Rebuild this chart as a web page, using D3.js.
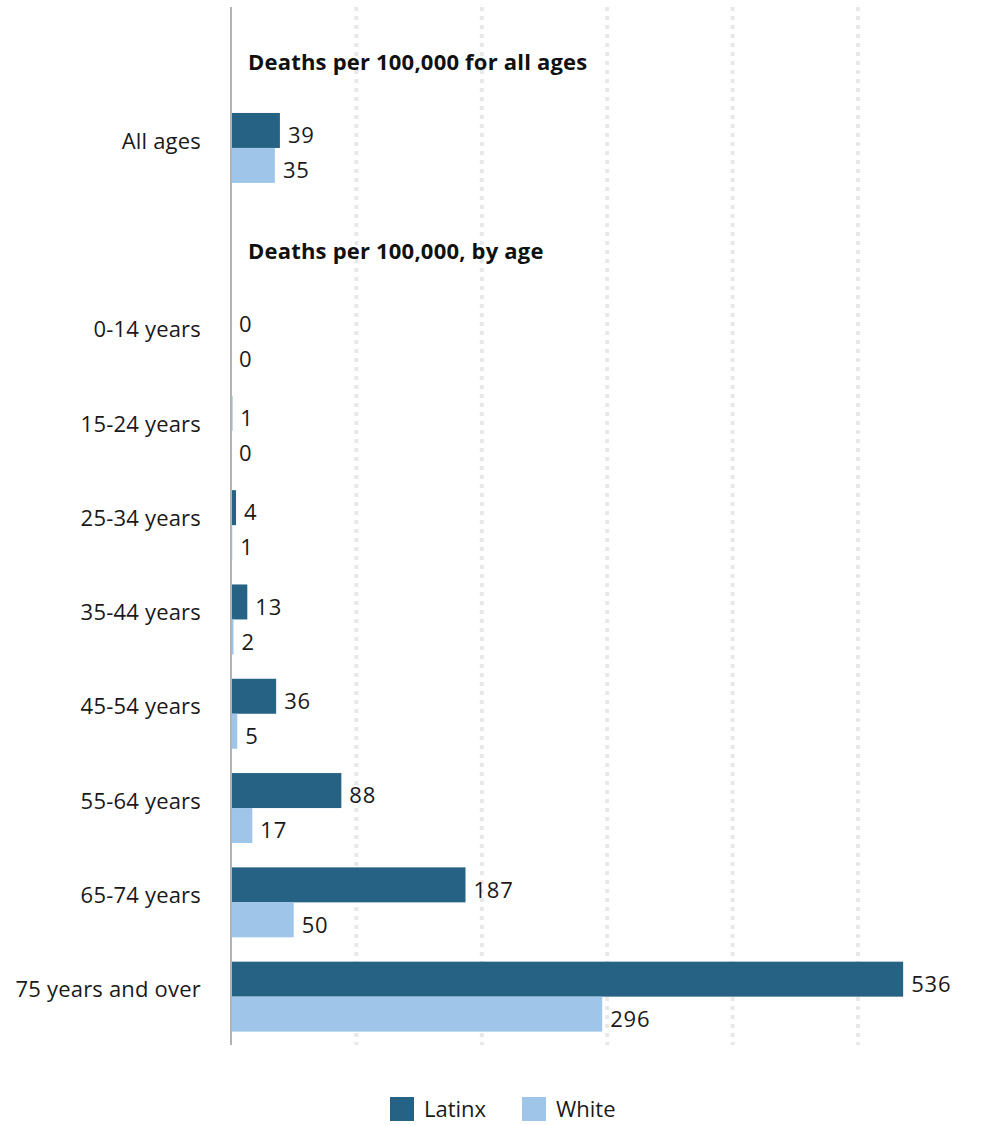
<!DOCTYPE html>
<html>
<head>
<meta charset="utf-8">
<script src="https://cdn.jsdelivr.net/npm/d3@7"></script>
<style>
  html, body { margin: 0; padding: 0; background: #fff; }
  svg { display: block; font-family: "Open Sans", Lato, sans-serif; }
</style>
</head>
<body>
<svg id="chart" width="981" height="1125"></svg>
<script>
// ---- data ----
const rows = ["h1", "All ages", "h2", "0-14 years", "15-24 years", "25-34 years", "35-44 years", "45-54 years", "55-64 years", "65-74 years", "75 years and over"];
const categories = ["All ages", "0-14 years", "15-24 years", "25-34 years", "35-44 years", "45-54 years", "55-64 years", "65-74 years", "75 years and over"];
const latinx = [39, 0, 1, 4, 13, 36, 88, 187, 536];
const white = [35, 0, 0, 1, 2, 5, 17, 50, 296];
const series = ["Latinx", "White"];
const headers = [
  { row: "h1", text: "Deaths per 100,000 for all ages" },
  { row: "h2", text: "Deaths per 100,000, by age" }
];
const gridTicks = [100, 200, 300, 400, 500];

// ---- layout ----
const svg = d3.select("#chart");
const colors = d3.scaleOrdinal().domain(series).range(["#256283", "#9fc6e8"]);

const x = d3.scaleLinear().domain([0, 100]).range([231, 356.4]);
const y = d3.scaleBand().domain(rows).range([6.5, 1043.8]).paddingInner(0.258).paddingOuter(0.129);
const ySub = d3.scaleBand().domain(series).range([0, y.bandwidth()]);

const yTop = 7, yBottom = 1045;

// grid lines
svg.append("g").selectAll("line").data(gridTicks).join("line")
  .attr("x1", d => x(d)).attr("x2", d => x(d))
  .attr("y1", yTop).attr("y2", yBottom)
  .attr("stroke", "#e8e8e8").attr("stroke-width", 4)
  .attr("stroke-dasharray", "4,5");

const data = categories.map((c, i) => ({ cat: c, vals: [
  { s: "Latinx", v: latinx[i] }, { s: "White", v: white[i] }
]}));

const groups = svg.append("g").selectAll("g").data(data).join("g")
  .attr("transform", d => `translate(0,${y(d.cat)})`);

groups.selectAll("rect").data(d => d.vals).join("rect")
  .attr("x", x(0))
  .attr("y", d => ySub(d.s))
  .attr("width", d => x(d.v) - x(0))
  .attr("height", ySub.bandwidth())
  .attr("fill", d => colors(d.s));

groups.selectAll("text.val").data(d => d.vals).join("text")
  .attr("class", "val")
  .attr("x", d => x(d.v) + 8)
  .attr("y", d => ySub(d.s) + ySub.bandwidth() / 2 + 5)
  .attr("dy", "0.35em")
  .attr("font-size", 22)
  .attr("letter-spacing", 0.8)
  .attr("fill", "#1a1a1a")
  .text(d => d.v);

// category labels
svg.append("g").selectAll("text").data(categories).join("text")
  .attr("x", 201)
  .attr("y", d => y(d) + y.bandwidth() / 2 - 7)
  .attr("dy", "0.35em")
  .attr("text-anchor", "end")
  .attr("font-size", 22)
  .attr("letter-spacing", 0.2)
  .attr("fill", "#1a1a1a")
  .text(d => d);

// section headers
svg.append("g").selectAll("text").data(headers).join("text")
  .attr("x", 248)
  .attr("y", d => y(d.row) + y.bandwidth() / 2 - 7 + 16)
  .attr("dy", "0.35em")
  .attr("font-size", 22)
  .attr("font-weight", "bold")
  .attr("letter-spacing", 0.2)
  .attr("fill", "#111")
  .text(d => d.text);

// axis line
svg.append("line")
  .attr("x1", x(0)).attr("x2", x(0))
  .attr("y1", yTop).attr("y2", yBottom)
  .attr("stroke", "#b3b3b3").attr("stroke-width", 2);

// legend
const legendX = [390, 522];
const lg = svg.append("g").selectAll("g").data(series).join("g")
  .attr("transform", (d, i) => `translate(${legendX[i]},1097)`);
lg.append("rect").attr("width", 24).attr("height", 24).attr("fill", d => colors(d));
lg.append("text").attr("x", 34).attr("y", 12).attr("dy", "0.35em")
  .attr("font-size", 22).attr("fill", "#1a1a1a").text(d => d);
</script>
</body>
</html>
